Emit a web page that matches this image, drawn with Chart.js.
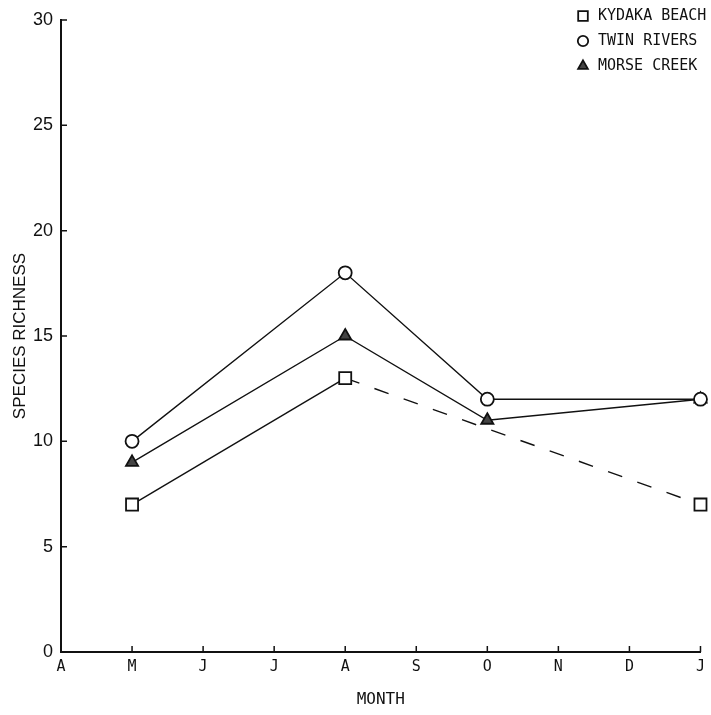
<!DOCTYPE html>
<html>
<head>
<meta charset="utf-8">
<script src="https://cdn.jsdelivr.net/npm/chart.js@4/dist/chart.umd.min.js"></script>
<style>
  html, body { margin: 0; padding: 0; background: #fff; }
  #wrap { width: 711px; height: 715px; }
</style>
</head>
<body>
<div id="wrap"><canvas id="myChart" width="711" height="715"></canvas></div>
<script>
// data
var months = ["A", "M", "J", "J", "A", "S", "O", "N", "D", "J"];
var kydakaBeach = [null, 7, null, null, 13, null, null, null, null, 7];
var twinRivers  = [null, 10, null, null, 18, null, 12, null, null, 12];
var morseCreek  = [null, 9, null, null, 15, null, 11, null, null, 12];
var yTicks = [0, 5, 10, 15, 20, 25, 30];
var kydakaDashFrom = 4; // dashed after the August sample

var ink = "#111";

/* inward tick marks on both axes */
var inwardTicks = {
    id: "inwardTicks",
    afterDatasetsDraw: function(chart){
        var ctx = chart.ctx, x = chart.scales.x, y = chart.scales.y;
        ctx.save();
        ctx.strokeStyle = ink;
        ctx.lineWidth = 1.5;
        ctx.beginPath();
        y.ticks.forEach(function(t, i){
            var py = y.getPixelForTick(i);
            ctx.moveTo(y.right, py); ctx.lineTo(y.right + 6, py);
        });
        x.ticks.forEach(function(t, i){
            var px = x.getPixelForTick(i);
            ctx.moveTo(px, x.top); ctx.lineTo(px, x.top - 6);
        });
        ctx.stroke();
        ctx.restore();
    }
};

/* legend in the upper right corner */
var cornerLegend = {
    id: "cornerLegend",
    afterDraw: function(chart){
        var ctx = chart.ctx;
        ctx.save();
        ctx.font = "15px 'DejaVu Sans Mono'";
        ctx.textBaseline = "middle";
        chart.data.datasets.forEach(function(ds, i){
            var cy = 16 + i * 25;
            ctx.strokeStyle = ink;
            ctx.fillStyle = ds.pointBackgroundColor;
            ctx.lineWidth = 1.8;
            Chart.helpers.drawPoint(ctx, {pointStyle: ds.pointStyle, radius: ds.pointRadius * 0.8, rotation: 0, borderWidth: 1.8}, 583, cy);
            ctx.fillStyle = ink;
            ctx.fillText(ds.label, 598, cy);
        });
        ctx.restore();
    }
};

var ctx = document.getElementById("myChart").getContext("2d");
var myChart = new Chart(ctx, {
    type: "line",
    data: {
        labels: months,
        datasets: [
            {
                label: "KYDAKA BEACH",
                data: kydakaBeach,
                borderColor: ink,
                borderWidth: 1.4,
                pointStyle: "rect",
                pointRadius: 8.5,
                pointBackgroundColor: "#fff",
                pointBorderColor: ink,
                pointBorderWidth: 1.8,
                segment: {
                    borderDash: function(c){ return c.p0DataIndex >= kydakaDashFrom ? [15, 16] : undefined; }
                }
            },
            {
                label: "TWIN RIVERS",
                data: twinRivers,
                borderColor: ink,
                borderWidth: 1.4,
                pointStyle: "circle",
                pointRadius: 6.5,
                pointBackgroundColor: "#fff",
                pointBorderColor: ink,
                pointBorderWidth: 1.8
            },
            {
                label: "MORSE CREEK",
                data: morseCreek,
                borderColor: ink,
                borderWidth: 1.4,
                pointStyle: "triangle",
                pointRadius: 7,
                pointBackgroundColor: "#444",
                pointBorderColor: ink,
                pointBorderWidth: 1.8
            }
        ]
    },
    options: {
        responsive: false,
        animation: false,
        spanGaps: true,
        layout: { padding: { top: 20, right: 10, left: 0, bottom: 0 } },
        plugins: {
            legend: { display: false },
            tooltip: { enabled: false }
        },
        scales: {
            x: {
                offset: false,
                grid: { display: false, drawTicks: false },
                border: { display: true, color: ink, width: 2 },
                ticks: {
                    color: ink,
                    padding: 6,
                    maxRotation: 0,
                    autoSkip: false,
                    font: { family: "'DejaVu Sans Mono'", size: 15 }
                },
                title: {
                    display: true,
                    text: "MONTH",
                    color: ink,
                    font: { family: "'DejaVu Sans Mono'", size: 16 },
                    padding: { top: 6, bottom: 6 }
                },
                afterFit: function(s){ s.height = 63; }
            },
            y: {
                min: 0,
                max: 30,
                grid: { display: false, drawTicks: false },
                border: { display: true, color: ink, width: 2 },
                afterBuildTicks: function(s){ s.ticks = yTicks.map(function(v){ return {value: v}; }); },
                ticks: {
                    color: ink,
                    padding: 8,
                    font: { family: "'Liberation Sans'", size: 18 }
                },
                title: {
                    display: true,
                    text: "SPECIES RICHNESS",
                    color: ink,
                    font: { family: "'Liberation Sans'", size: 17 },
                    padding: { top: 10, bottom: 0 }
                },
                afterFit: function(s){ s.width = 61; }
            }
        }
    },
    plugins: [inwardTicks, cornerLegend]
});
</script>
</body>
</html>
